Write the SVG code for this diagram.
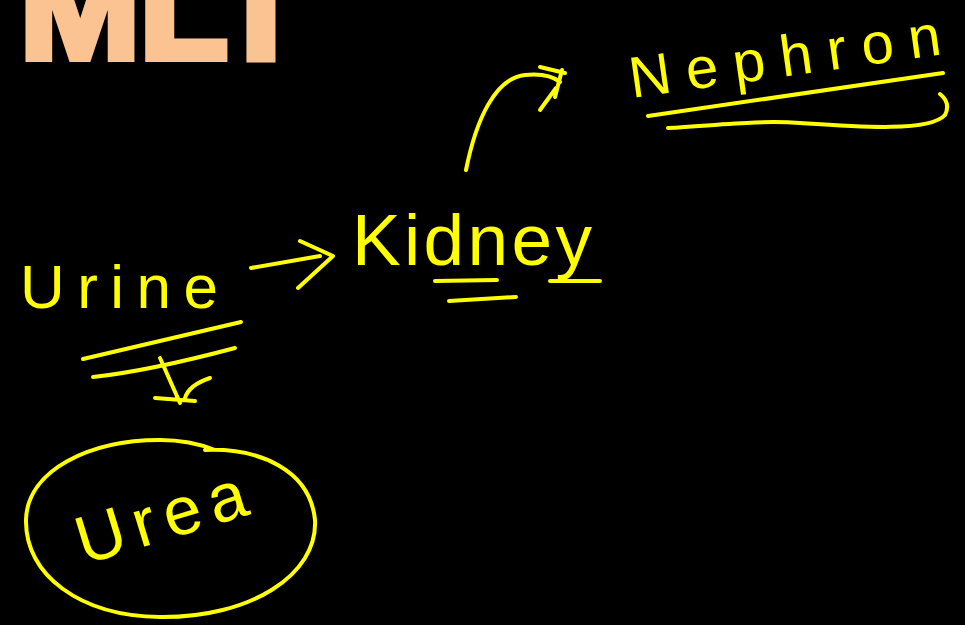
<svg xmlns="http://www.w3.org/2000/svg" width="965" height="625" viewBox="0 0 965 625">
<style>
.hw{fill:#FFFF00;font-family:"Liberation Sans","DejaVu Sans",sans-serif;}
.st{fill:none;stroke:#FFFF00;stroke-width:4;stroke-linecap:round;stroke-linejoin:round;}
.title{fill:#FBC391;stroke:#FBC391;stroke-width:8;stroke-linejoin:miter;font-family:"Liberation Sans",Arial,sans-serif;font-weight:bold;}
</style>
<rect width="965" height="625" fill="#000"/>
<g id="title">
<text class="title" x="20" y="58" font-size="140" textLength="285" lengthAdjust="spacingAndGlyphs">MLT</text>
</g>
<g id="urine">
<text class="hw" x="20" y="308" font-size="62" textLength="198" lengthAdjust="spacing">Urine</text>
<path class="st" d="M83,359 L241,322"/>
<path class="st" d="M93,377 C140,372 190,360 235,348"/>
</g>
<g id="kidney">
<text class="hw" x="352" y="265" font-size="73" textLength="240" lengthAdjust="spacing">Kidney</text>
<path class="st" d="M435,281 L497,280"/>
<path class="st" d="M449,301 L516,297"/>
<path class="st" d="M550,281 L600,281"/>
</g>
<g id="nephron">
<text class="hw" x="632" y="98" font-size="58" textLength="314" lengthAdjust="spacing" transform="rotate(-8 632 98)">Nephron</text>
<path class="st" d="M648,116 L943,73"/>
<path class="st" d="M668,128 C720,125 760,120 800,123 C860,127 930,132 945,115 C950,105 945,98 940,94"/>
</g>
<g id="urea">
<path class="st" d="M205,450 C260,448 310,470 315,520 C318,575 250,618 160,617 C80,616 25,575 26,520 C27,470 90,440 160,440 C185,440 200,444 215,450"/>
<text class="hw" x="84" y="565" font-size="68" textLength="175" lengthAdjust="spacing" transform="rotate(-17 84 565)">Urea</text>
</g>
<g id="connectors">
<path class="st" d="M251,268 L320,256"/>
<path class="st" d="M300,241 L333,256 L298,288"/>
<path class="st" d="M466,170 C476,120 495,78 525,75 C545,73 555,78 560,82"/>
<path class="st" d="M540,67 L565,73 M555,97 L562,70 M540,110 L556,88"/>
<path class="st" d="M160,358 L180,403 M155,398 L195,401 M185,398 C188,388 198,382 210,378"/>
</g>
</svg>
